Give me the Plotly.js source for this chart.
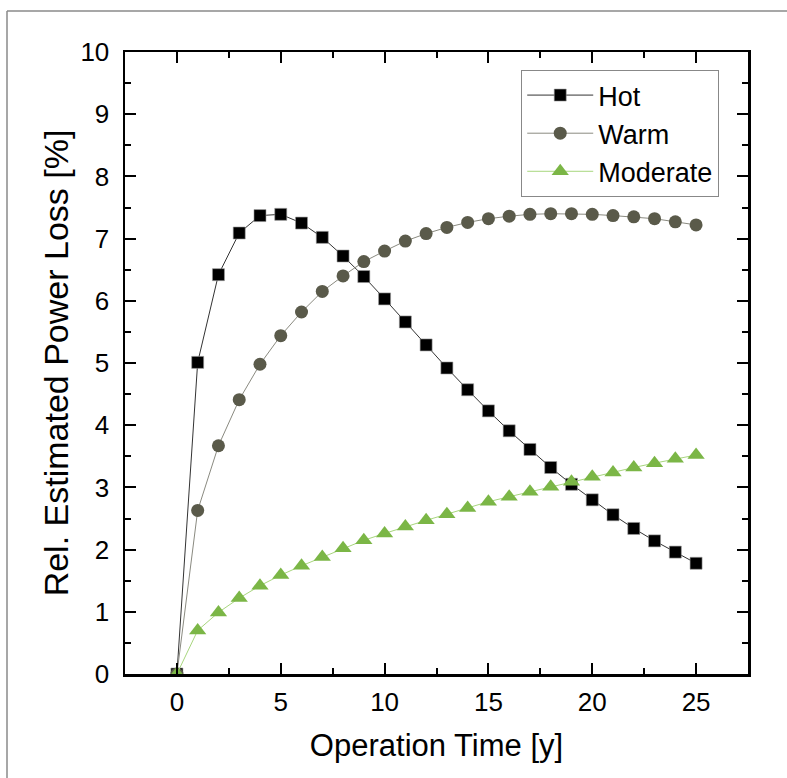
<!DOCTYPE html>
<html>
<head>
<meta charset="utf-8">
<script src="https://cdn.plot.ly/plotly-3.0.1.min.js"></script>
<style>html,body{margin:0;padding:0;background:#fff;}#chart{width:787px;height:778px;}</style>
</head>
<body>
<div id="chart"></div>
<script>
const years = [0,1,2,3,4,5,6,7,8,9,10,11,12,13,14,15,16,17,18,19,20,21,22,23,24,25];
const hot = [0,5.01,6.42,7.09,7.37,7.39,7.25,7.02,6.72,6.39,6.03,5.66,5.29,4.92,4.57,4.23,3.91,3.61,3.32,3.05,2.80,2.56,2.34,2.14,1.96,1.78];
const warm = [0,2.63,3.67,4.41,4.98,5.44,5.82,6.15,6.40,6.63,6.80,6.96,7.08,7.18,7.26,7.32,7.36,7.39,7.40,7.40,7.39,7.37,7.35,7.32,7.27,7.22];
const moderate = [0,0.70,0.99,1.22,1.42,1.59,1.74,1.88,2.02,2.15,2.26,2.37,2.47,2.57,2.67,2.77,2.85,2.93,3.01,3.09,3.17,3.24,3.32,3.39,3.46,3.52];
const seriesNames = ["Hot","Warm","Moderate"];
const xTickVals = [0,5,10,15,20,25];
const yTickVals = [0,1,2,3,4,5,6,7,8,9,10];

const FONT = "Liberation Sans, Arial, sans-serif";

const traces = [
  {x: years, y: hot, name: seriesNames[0], mode: "lines+markers", type: "scatter",
   line: {color: "#333333", width: 1},
   marker: {symbol: "square", size: 12, color: "#000000", line: {color: "#9a9a9a", width: 0.6}}},
  {x: years, y: warm, name: seriesNames[1], mode: "lines+markers", type: "scatter",
   line: {color: "#8a8a80", width: 1},
   marker: {symbol: "circle", size: 13, color: "#5a5a4a", line: {width: 0}}},
  {x: years, y: moderate, name: seriesNames[2], mode: "lines+markers", type: "scatter",
   line: {color: "#a8d67e", width: 1},
   marker: {symbol: "triangle-up", size: 15, color: "#7bb646", line: {width: 0}}}
];

const axisCommon = {
  showline: true, linecolor: "#000", linewidth: 2.5, mirror: "ticks",
  ticks: "inside", ticklen: 11, tickwidth: 2, tickcolor: "#000",
  showgrid: false, zeroline: false,
  tickfont: {family: FONT, size: 26, color: "#000"},
  minor: {ticks: "inside", ticklen: 6, tickwidth: 2, tickcolor: "#000", showgrid: false}
};

const layout = {
  width: 787, height: 778,
  margin: {l: 125, r: 39, t: 52, b: 104},
  paper_bgcolor: "#fff", plot_bgcolor: "#fff",
  showlegend: true,
  xaxis: Object.assign({}, axisCommon, {
    range: [-2.5, 27.5], tickvals: xTickVals, ticktext: xTickVals.map(String),
    minor: Object.assign({}, axisCommon.minor, {dtick: 2.5, tick0: 0}),
    ticklabelstandoff: 3,
    title: {text: "Operation Time [y]", font: {family: FONT, size: 31, color: "#000"}, standoff: 19}
  }),
  yaxis: Object.assign({}, axisCommon, {
    range: [0, 10], tickvals: yTickVals, ticktext: yTickVals.map(String),
    minor: Object.assign({}, axisCommon.minor, {dtick: 0.5, tick0: 0}),
    ticklabelstandoff: 8,
    title: {text: "Rel. Estimated Power Loss [%]", font: {family: FONT, size: 34, color: "#000"}, standoff: 2}
  }),
  legend: {
    x: 0.636, y: 0.971, xanchor: "left", yanchor: "top",
    bgcolor: "#fff", bordercolor: "#888", borderwidth: 1,
    font: {family: FONT, size: 27, color: "#000"},
    itemwidth: 66, tracegroupgap: 0
  },
  shapes: [
    {type: "line", xref: "paper", yref: "paper", x0: -0.1894, x1: 1.2, y0: 1.066, y1: 1.066, line: {color: "#8a8a8a", width: 1.5}},
    {type: "line", xref: "paper", yref: "paper", x0: -0.1894, x1: -0.1894, y0: 1.066, y1: -0.3, line: {color: "#8a8a8a", width: 1.5}}
  ]
};

Plotly.newPlot("chart", traces, layout, {staticPlot: true, displayModeBar: false});
</script>
</body>
</html>
